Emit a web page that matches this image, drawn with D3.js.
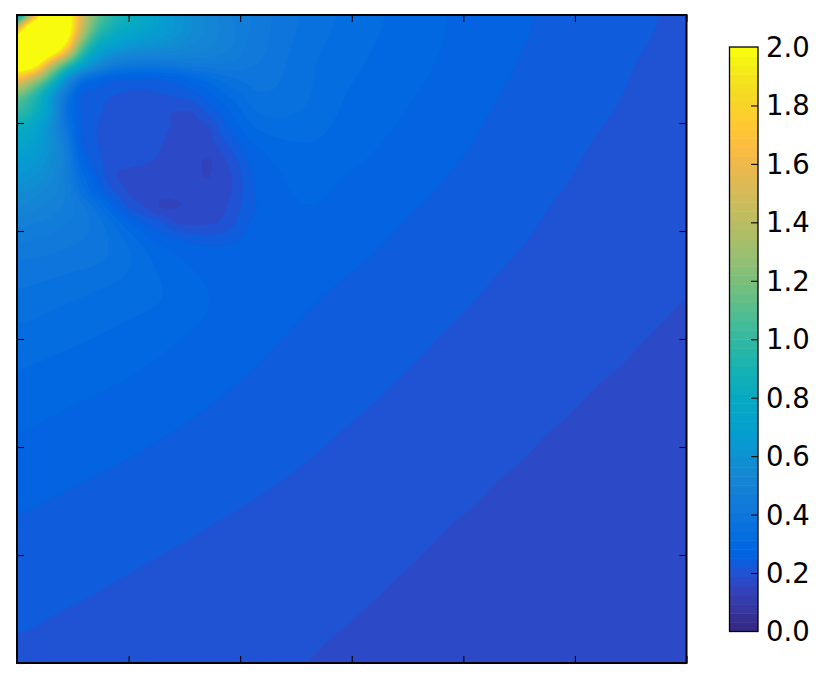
<!DOCTYPE html>
<html><head><meta charset="utf-8">
<script src="https://cdn.jsdelivr.net/npm/d3@7"></script>
<style>html,body{margin:0;padding:0;background:#fff}svg{display:block}
text{font-family:"DejaVu Sans";font-size:27.5px;fill:#000}</style></head>
<body><svg id="c" width="831" height="696"></svg>
<script>
// Whole plot field, 15 x 15 samples, top row first
const fieldRows = [
[.9,2.6,1.0,.68,.53,.43,.3714,.3326,.3047,.2812,.2636,.2472,.2356,.2241,.2125],
[2.5,.85,.55,.42,.42,.41,.3552,.3206,.2964,.2765,.2574,.2427,.2302,.2184,.2115],
[.92,.47,.23,.21,.24,.35,.3435,.3036,.2845,.2665,.249,.2362,.2235,.215,.2092],
[.7,.47,.22,.185,.175,.27,.3032,.2877,.2719,.2552,.2414,.2289,.2175,.2112,.2055],
[.55,.46,.29,.17,.175,.25,.2825,.2698,.257,.2446,.2328,.221,.213,.207,.2012],
[.43,.41,.37,.285,.254,.2635,.2685,.2575,.2453,.2346,.2238,.2153,.2085,.2012,.1945],
[.3714,.3545,.3354,.3139,.2812,.2684,.2556,.2445,.2349,.2253,.2163,.2092,.2022,.1952,.1881],
[.3326,.3202,.3059,.2886,.2723,.257,.2448,.2353,.2259,.217,.2098,.2026,.1955,.1884,.1838],
[.3036,.2925,.2817,.2692,.2564,.2453,.2358,.2263,.2174,.2101,.2029,.1956,.1883,.1838,.1797],
[.2817,.272,.2621,.2525,.2433,.2344,.2254,.2169,.2099,.2027,.1955,.1883,.1837,.1797,.1758],
[.263,.2547,.2466,.2389,.2311,.2233,.2159,.209,.2022,.1952,.1882,.1837,.1796,.1758,.1722],
[.2469,.24,.2331,.2263,.2195,.2131,.2068,.2005,.1943,.188,.1837,.1795,.1757,.1721,.1685],
[.2353,.2284,.2216,.2156,.2101,.2045,.199,.1935,.1881,.1837,.1796,.1758,.1721,.1686,.1654],
[.2224,.2172,.2123,.2075,.2026,.1977,.1928,.1879,.1837,.1796,.1758,.1721,.1685,.1654,.1621],
[.2144,.2099,.2055,.2012,.1968,.1923,.1879,.1837,.1796,.1758,.1721,.1685,.1653,.1621,.1591]
];
// Finer samples of the upper-left corner, 16 x 16, top row first
const cornerRows = [
[.75,1.5,2.4,2.2,1.55,1.15,.95,.85,.77,.68,.62,.56,.52,.48,.45,.43],
[1.7,2.6,2.9,2.25,1.45,1.02,.85,.77,.72,.66,.61,.56,.52,.49,.46,.43],
[2.5,3.0,2.5,1.85,1.15,.8,.68,.62,.59,.57,.55,.52,.5,.48,.45,.43],
[2.3,2.2,1.6,1.15,.8,.58,.47,.43,.42,.42,.43,.44,.44,.44,.43,.41],
[1.65,1.4,1.05,.65,.38,.3,.262,.25,.25,.255,.27,.3,.33,.36,.38,.38],
[1.18,1.0,.72,.42,.255,.235,.22,.214,.212,.216,.225,.24,.27,.31,.34,.36],
[1.0,.88,.68,.38,.25,.225,.21,.203,.197,.194,.188,.19,.232,.265,.31,.34],
[.84,.76,.6,.4,.255,.219,.206,.2,.196,.192,.184,.178,.186,.245,.28,.32],
[.75,.7,.6,.45,.26,.22,.206,.2,.196,.189,.176,.172,.176,.213,.257,.3],
[.68,.65,.58,.47,.29,.228,.205,.198,.193,.183,.17,.165,.1555,.186,.23,.27],
[.63,.6,.55,.47,.33,.25,.193,.18,.174,.168,.165,.162,.1555,.175,.21,.258],
[.57,.55,.52,.47,.37,.28,.222,.183,.172,.166,.163,.161,.162,.176,.208,.25],
[.53,.51,.49,.46,.42,.36,.28,.215,.188,.1555,.1555,.165,.17,.185,.217,.25],
[.48,.47,.46,.44,.42,.39,.34,.285,.245,.222,.185,.18,.184,.197,.23,.262],
[.45,.44,.43,.42,.41,.39,.37,.33,.29,.262,.248,.235,.225,.235,.248,.265],
[.42,.41,.405,.4,.39,.38,.365,.34,.32,.295,.275,.262,.255,.255,.26,.27]
];
const axisTicks = [0,1,2,3,4,5,6];
const colorTicks = [0,.2,.4,.6,.8,1,1.2,1.4,1.6,1.8,2];
const colormap = [
[.2081,.1663,.5292],[.2116,.1898,.5777],[.2123,.2138,.627],[.2081,.2386,.6771],[.1959,.2645,.7279],[.1707,.2919,.7792],[.1253,.3242,.8303],[.0591,.3598,.8683],
[.0117,.3875,.882],[.006,.4086,.8828],[.0165,.4266,.8786],[.0329,.443,.872],[.0498,.4586,.8641],[.0629,.4737,.8554],[.0723,.4887,.8467],[.0779,.504,.8384],
[.0793,.52,.8312],[.0749,.5375,.8263],[.0641,.557,.824],[.0488,.5772,.8228],[.0343,.5966,.8199],[.0265,.6137,.8135],[.0239,.6287,.8038],[.0231,.6418,.7913],
[.0228,.6535,.7768],[.0267,.6642,.7607],[.0384,.6743,.7436],[.059,.6838,.7254],[.0843,.6928,.7062],[.1133,.7015,.6859],[.1453,.7098,.6646],[.1801,.7177,.6424],
[.2178,.725,.6193],[.2586,.7317,.5954],[.3022,.7376,.5712],[.3482,.7424,.5473],[.3953,.7459,.5244],[.442,.7481,.5033],[.4871,.7491,.484],[.53,.7491,.4661],
[.5709,.7485,.4494],[.6099,.7473,.4337],[.6473,.7456,.4188],[.6834,.7435,.4044],[.7184,.7411,.3905],[.7525,.7384,.3768],[.7858,.7356,.3633],[.8185,.7327,.3498],
[.8507,.7299,.336],[.8824,.7274,.3217],[.9139,.7258,.3063],[.945,.7261,.2886],[.9739,.7314,.2666],[.9938,.7455,.2403],[.999,.7653,.2164],[.9955,.7861,.1967],
[.988,.8066,.1794],[.9789,.8271,.1633],[.9697,.8481,.1475],[.9626,.8705,.1309],[.9589,.8949,.1132],[.9598,.9218,.0948],[.9661,.9514,.0755],[.9763,.9831,.0538]
].map(c => d3.rgb(c[0]*255, c[1]*255, c[2]*255).formatRgb());

const svg = d3.select("#c");
const x = d3.scaleLinear().domain([0,6]).range([17,686.5]);
const y = d3.scaleLinear().domain([0,6]).range([663,15]);
const cVal = d3.scaleLinear().domain([0,2]).range([631.5,47]);
const color = v => colormap[Math.max(0,Math.min(63,Math.floor(v*32)))];

// Smooth sampling of a rectangular grid
function cubic(a,b,c,d,t){return b+.5*t*(c-a+t*(2*a-5*b+4*c-d+t*(3*(b-c)+d-a)));}
function sample(rows,fx,fy){
  const nr=rows.length,nc=rows[0].length;
  const gx=fx*(nc-1),gy=fy*(nr-1),i=Math.min(nc-2,Math.floor(gx)),j=Math.min(nr-2,Math.floor(gy));
  const cl=(v,m)=>Math.max(0,Math.min(m,v));
  const col=[-1,0,1,2].map(dj=>{const r=rows[cl(j+dj,nr-1)];
    return cubic(r[cl(i-1,nc-1)],r[i],r[i+1],r[cl(i+2,nc-1)],gx-i);});
  return cubic(col[0],col[1],col[2],col[3],gy-j);
}
const cornerW=240/669.5, cornerH=240/648;
const smooth=t=>{t=Math.max(0,Math.min(1,t));return t*t*(3-2*t);};
const W=335,H=324,raster=new Float64Array(W*H);
for(let j=0;j<H;j++)for(let i=0;i<W;i++){
  const fx=(i+.5)/W,fy=(j+.5)/H;
  let v=sample(fieldRows,fx,fy);
  if(fx<cornerW&&fy<cornerH){
    const w=smooth((cornerW-fx)/(cornerW*.1))*smooth((cornerH-fy)/(cornerH*.1));
    v=v*(1-w)+sample(cornerRows,fx/cornerW,fy/cornerH)*w;
  }
  raster[j*W+i]=v;
}
const levels=d3.range(64).map(i=>i/32);
const contours=d3.contours().size([W,H]).thresholds(levels)(raster);
const proj=d3.geoTransform({point(px,py){this.stream.point(x(px/W*6),y(6-py/H*6));}});
const path=d3.geoPath(proj);
svg.append("g").selectAll("path").data(contours).join("path")
  .attr("d",path).attr("fill",d=>color(d.value+1e-6)).attr("stroke",d=>color(d.value+1e-6)).attr("stroke-width",.4);

// Frame and inward ticks
function style(g){g.select(".domain").remove();g.selectAll("line").attr("stroke","#000").attr("stroke-width",1.1);g.selectAll("text").remove();}
const noLabel=()=>"";
svg.append("g").attr("transform","translate(0,663)").call(d3.axisBottom(x).tickValues(axisTicks).tickSize(-7).tickFormat(noLabel)).call(style);
svg.append("g").attr("transform","translate(0,15)").call(d3.axisTop(x).tickValues(axisTicks).tickSize(-7).tickFormat(noLabel)).call(style);
svg.append("g").attr("transform","translate(17,0)").call(d3.axisLeft(y).tickValues(axisTicks).tickSize(-7).tickFormat(noLabel)).call(style);
svg.append("g").attr("transform","translate(686.5,0)").call(d3.axisRight(y).tickValues(axisTicks).tickSize(-7).tickFormat(noLabel)).call(style);
svg.append("rect").attr("x",x(0)).attr("y",y(6)).attr("width",x(6)-x(0)).attr("height",y(0)-y(6))
  .attr("fill","none").attr("stroke","#000").attr("stroke-width",2);

// Colour bar
const bx0=729.5,bx1=758;
svg.append("g").selectAll("rect").data(levels).join("rect")
  .attr("x",bx0).attr("width",bx1-bx0)
  .attr("y",d=>cVal(d+1/32)).attr("height",d=>cVal(d)-cVal(d+1/32)+.5)
  .attr("fill",d=>color(d+1e-6));
svg.append("g").attr("transform",`translate(${bx1},0)`)
  .call(d3.axisLeft(cVal).tickValues(colorTicks.slice(1,-1)).tickSize(7).tickFormat(noLabel)).call(style);
svg.append("rect").attr("x",bx0).attr("y",cVal(2)).attr("width",bx1-bx0).attr("height",cVal(0)-cVal(2))
  .attr("fill","none").attr("stroke","#000").attr("stroke-width",1.3);
svg.append("g").selectAll("text").data(colorTicks).join("text")
  .attr("x",766).attr("y",d=>cVal(d)).attr("dy","0.36em").text(d=>d.toFixed(1));
</script></body></html>
